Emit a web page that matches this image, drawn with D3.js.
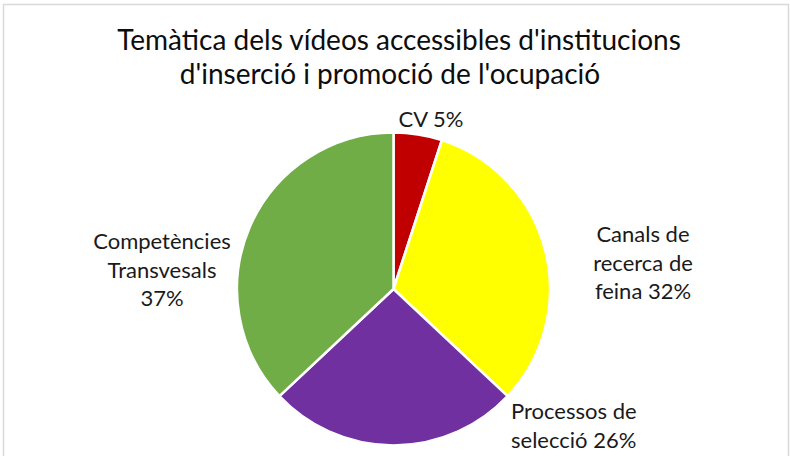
<!DOCTYPE html>
<html lang="ca">
<head>
<meta charset="utf-8">
<title>Temàtica dels vídeos</title>
<script src="https://cdn.jsdelivr.net/npm/d3@7/dist/d3.min.js"></script>
<style>
  body { margin: 0; background: #fff; }
  svg { display: block; font-family: Lato, "Open Sans", sans-serif; }
</style>
</head>
<body>
<div id="chart"></div>
<script>
  var categories = ["CV", "Canals de recerca de feina", "Processos de selecció", "Competències Transvesals"];
  var values = [5, 32, 26, 37];
  var colors = ["#C00000", "#FFFF00", "#7030A0", "#70AD47"];
  // label lines per slice
  var labelLines = [
    ["CV 5%"],
    ["Canals de", "recerca de", "feina 32%"],
    ["Processos de", "selecció 26%"],
    ["Competències", "Transvesals", "37%"]
  ];
  var titleLines = ["Temàtica dels vídeos accessibles d'institucions", "d'inserció i promoció de l'ocupació"];

  var width = 790, height = 456;
  var cx = 393.5, cy = 289, radius = 156.5;

  var svg = d3.select('#chart').append('svg')
    .attr('width', width)
    .attr('height', height);

  // chart frame
  svg.append('rect')
    .attr('x', 3.5).attr('y', 4.5)
    .attr('width', 785).attr('height', 470)
    .attr('fill', 'none')
    .attr('stroke', '#d9d9d9')
    .attr('stroke-width', 1.5);

  var titleX = [399, 390];
  svg.append('text')
    .attr('text-anchor', 'middle')
    .attr('font-size', 28)
    .attr('fill', '#0d0d0d')
    .selectAll('tspan')
    .data(titleLines)
    .enter().append('tspan')
    .attr('x', (d, i) => titleX[i])
    .attr('y', (d, i) => 50 + i * 34)
    .text(d => d);

  var pie = d3.pie().sort(null).value(d => d);
  var arc = d3.arc().innerRadius(0).outerRadius(radius);

  var g = svg.append('g').attr('transform', `translate(${cx},${cy})`);
  g.selectAll('path')
    .data(pie(values))
    .enter().append('path')
    .attr('d', arc)
    .attr('fill', (d, i) => colors[i])
    .attr('stroke', '#fff')
    .attr('stroke-width', 2.5)
    .attr('stroke-linejoin', 'round');

  // label anchors (x, first baseline, anchor)
  var labelPos = [
    { x: 431, y: 127, anchor: 'middle' },
    { x: 643, y: 242, anchor: 'middle' },
    { x: 511, y: 419, anchor: 'start' },
    { x: 162, y: 249, anchor: 'middle' }
  ];
  var lineH = 28.5;

  labelLines.forEach(function (lines, i) {
    var p = labelPos[i];
    svg.append('text')
      .attr('text-anchor', p.anchor)
      .attr('font-size', 22)
      .attr('fill', '#1a1a1a')
      .selectAll('tspan')
      .data(lines)
      .enter().append('tspan')
      .attr('x', p.x)
      .attr('y', (d, j) => p.y + j * lineH)
      .text(d => d);
  });
</script>
</body>
</html>
